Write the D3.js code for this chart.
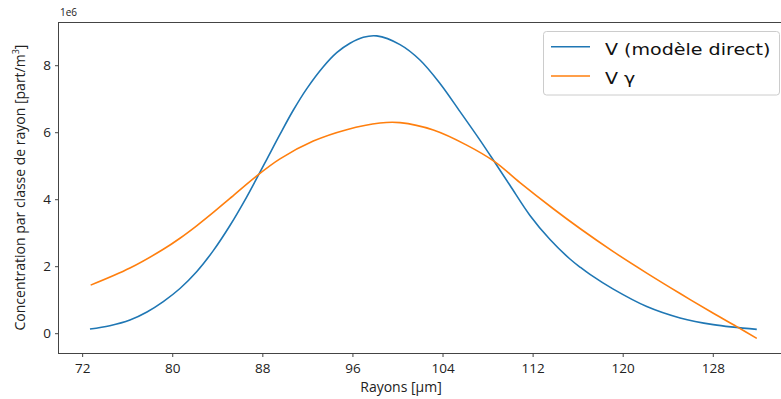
<!DOCTYPE html>
<html>
<head>
<meta charset="utf-8">
<script src="https://cdn.jsdelivr.net/npm/d3@7"></script>
<style>
  html, body { margin: 0; padding: 0; background: #fff; overflow: hidden; }
  svg { display: block; }
</style>
</head>
<body>
<svg id="chart" width="781" height="399"></svg>
<script>
// ---- data ----
const rayonsDirect = [72.74, 74.5, 76.29, 77.8, 79.25, 80.73, 82.21, 83.69, 85.17, 86.65, 87.39, 88.43, 89.61, 90.79, 91.98, 93.46, 94.65, 95.83, 97.01, 98.2, 100.27, 102.04, 103.82, 105.6, 107.37, 108.7, 110.03, 111.81, 113.59, 115.36, 116.25, 117.14, 119.21, 122.18, 125.14, 128.09, 131.95];
const vDirect      = [0.11, 0.21, 0.38, 0.62, 0.93, 1.32, 1.82, 2.45, 3.20, 4.05, 4.51, 5.17, 5.92, 6.64, 7.28, 7.94, 8.36, 8.64, 8.82, 8.86, 8.60, 8.14, 7.44, 6.60, 5.75, 5.08, 4.40, 3.50, 2.78, 2.20, 1.96, 1.74, 1.30, 0.78, 0.44, 0.24, 0.10];
const rayonsGamma  = [72.8, 76.29, 79.25, 80.73, 82.21, 83.69, 85.17, 87.39, 89.61, 92.57, 95.53, 98.49, 100.27, 103.23, 106.19, 108.7, 110.92, 113.88, 116.25, 119.21, 122.18, 125.14, 128.09, 130.17, 131.95];
const vGamma       = [1.42, 1.93, 2.49, 2.82, 3.19, 3.59, 4.01, 4.64, 5.19, 5.72, 6.06, 6.26, 6.27, 6.05, 5.60, 5.10, 4.48, 3.70, 3.11, 2.42, 1.78, 1.17, 0.58, 0.18, -0.17];
const xTicks = [72, 80, 88, 96, 104, 112, 120, 128];
const yTicks = [0, 2, 4, 6, 8];
const seriesNames = ["V (modèle direct)", "V γ"];
const seriesColors = ["#1f77b4", "#ff7f0e"];

const svg = d3.select("#chart");
const mLeft = 58, mTop = 22, mRight = 790, mBottom = 353;

const x = d3.scaleLinear().domain([69.9, 134.9]).range([mLeft, mRight]);
const y = d3.scaleLinear().domain([-0.606, 9.275]).range([mBottom, mTop]);

const tickFont = "'Open Sans', 'DejaVu Sans', sans-serif";

// spines
svg.append("rect")
  .attr("x", mLeft + 0.5).attr("y", mTop + 0.5)
  .attr("width", mRight - mLeft).attr("height", mBottom - mTop)
  .attr("fill", "none").attr("stroke", "#444").attr("stroke-width", 1);

// x axis
const xAxis = svg.append("g")
  .attr("transform", `translate(0.5,${mBottom + 0.5})`)
  .call(d3.axisBottom(x).tickValues(xTicks).tickSize(3.5).tickSizeOuter(0).tickFormat(d3.format("d")));
xAxis.select(".domain").remove();
xAxis.selectAll("line").attr("stroke", "#444");
xAxis.selectAll("text").attr("fill", "#222").attr("font-size", "13.5px")
  .attr("font-family", tickFont).attr("dy", null).attr("y", 19);

// y axis
const yAxis = svg.append("g")
  .attr("transform", `translate(${mLeft + 0.5},0.5)`)
  .call(d3.axisLeft(y).tickValues(yTicks).tickSize(3.5).tickSizeOuter(0).tickFormat(d3.format("d")));
yAxis.select(".domain").remove();
yAxis.selectAll("line").attr("stroke", "#444");
yAxis.selectAll("text").attr("fill", "#222").attr("font-size", "13.5px")
  .attr("font-family", tickFont).attr("x", -7.5);

// offset text
svg.append("text").attr("x", 60).attr("y", 16)
  .attr("font-family", tickFont).attr("font-size", "10px").attr("fill", "#222")
  .text("1e6");

// axis labels
svg.append("text")
  .attr("x", 401).attr("y", 392)
  .attr("text-anchor", "middle")
  .attr("font-family", tickFont).attr("font-size", "14px").attr("fill", "#222")
  .text("Rayons [µm]");

const yl = svg.append("text")
  .attr("transform", `translate(25,${(mTop + mBottom) / 2}) rotate(-90)`)
  .attr("text-anchor", "middle")
  .attr("font-family", tickFont).attr("font-size", "14px").attr("fill", "#222");
yl.append("tspan").text("Concentration par classe de rayon [part/m");
yl.append("tspan").attr("baseline-shift", "super").attr("font-size", "9px").text("3");
yl.append("tspan").text("]");

// lines
const line = d3.line()
  .x(d => x(d[0])).y(d => y(d[1]))
  .curve(d3.curveCatmullRom.alpha(0.5));

const series = [
  d3.zip(rayonsDirect, vDirect),
  d3.zip(rayonsGamma, vGamma)
];
series.forEach((s, i) => {
  svg.append("path").datum(s)
    .attr("d", line)
    .attr("fill", "none")
    .attr("stroke", seriesColors[i])
    .attr("stroke-width", 1.6)
    .attr("stroke-linejoin", "round");
});

// legend
const lg = svg.append("g");
lg.append("rect")
  .attr("x", 543.5).attr("y", 31.5).attr("width", 236).attr("height", 63.5)
  .attr("rx", 3).attr("fill", "#fff").attr("fill-opacity", 0.8)
  .attr("stroke", "#ccc").attr("stroke-width", 1);
seriesNames.forEach((n, i) => {
  const yy = 46.7 + i * 29.3;
  lg.append("line")
    .attr("x1", 551).attr("x2", 590).attr("y1", yy).attr("y2", yy)
    .attr("stroke", seriesColors[i]).attr("stroke-width", 1.6);
  lg.append("text")
    .attr("transform", `translate(605,${yy + 7.8}) scale(1.23,1)`)
    .attr("font-family", "'DejaVu Sans', sans-serif").attr("font-size", "15.5px")
    .attr("fill", "#111")
    .text(n);
});
</script>
</body>
</html>
